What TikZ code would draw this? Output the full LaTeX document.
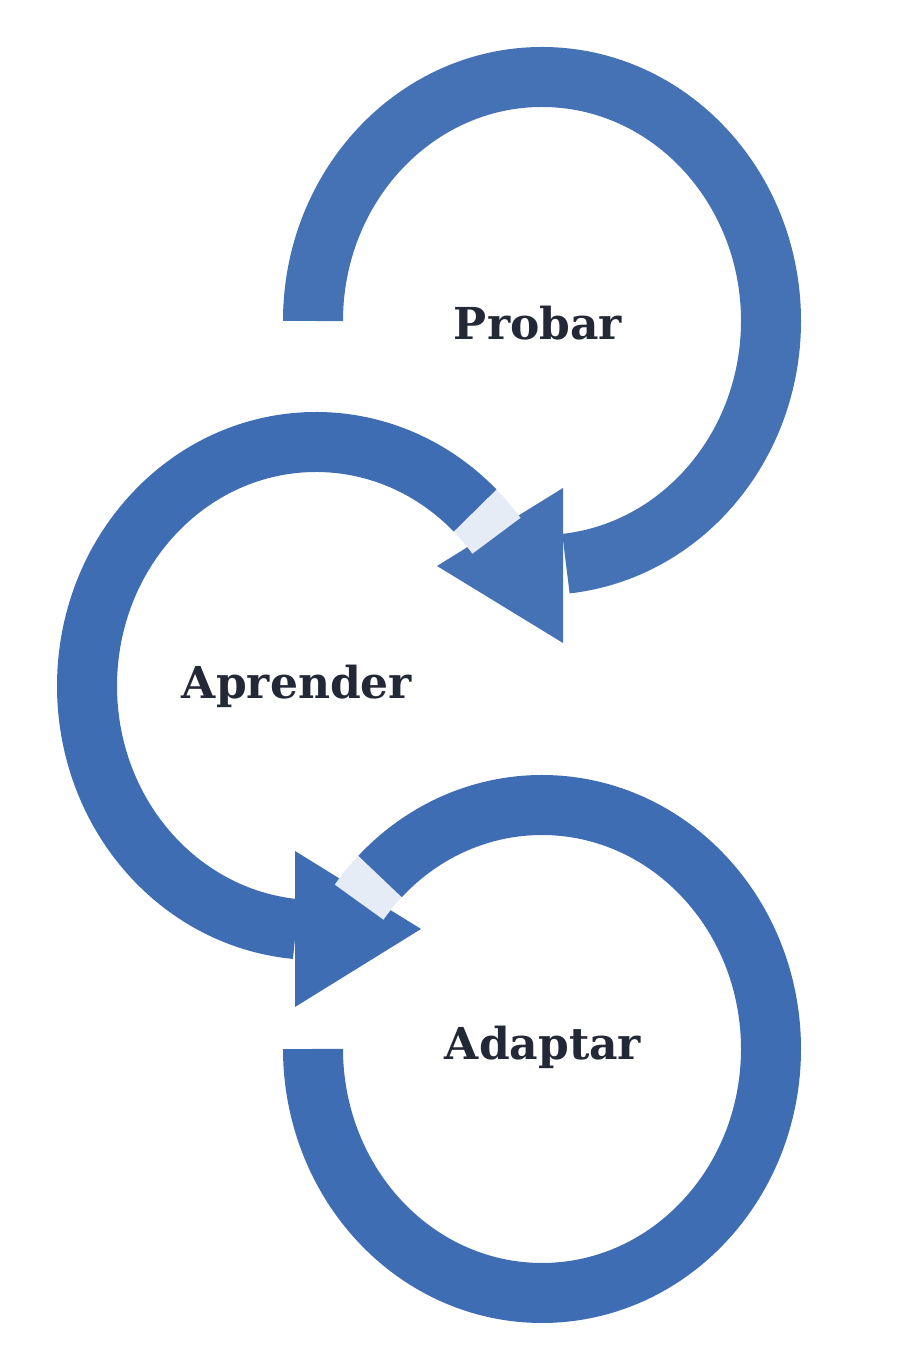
\documentclass[tikz,border=0pt]{standalone}
\usepackage{fontspec}
\setmainfont{DejaVu Serif}
\begin{document}
\begin{tikzpicture}[x=1pt,y=1pt]
\definecolor{band}{HTML}{4472B4}
\definecolor{bandd}{HTML}{3F6DB3}
\definecolor{pale}{HTML}{E6ECF6}
\definecolor{txt}{HTML}{232837}
\tikzset{ring/.style={line width=60pt,line cap=butt},
 lbl/.style={font=\bfseries\fontsize{44}{50}\selectfont,text=txt,inner sep=0pt}}
\useasboundingbox (0,0) rectangle (908,1372);
% top arc: centre (542,1051)
\draw[ring,band] ({542+229*cos(180)},{1051+244*sin(180)}) arc[start angle=180,end angle=-84,x radius=229,y radius=244];
\fill[band] (563,884) -- (563,729) -- (437,806) -- cycle;
% middle arc: centre (316,686)
\draw[ring,pale] ({316+229*cos(38)},{686+244*sin(38)}) arc[start angle=38,end angle=46,x radius=229,y radius=244];
\draw[ring,bandd] ({316+229*cos(46)},{686+244*sin(46)}) arc[start angle=46,end angle=265,x radius=229,y radius=244];
\fill[bandd] (295,521) -- (295,365) -- (421,443) -- cycle;
% bottom arc: centre (542,323)
\draw[ring,pale] ({542+229*cos(143)},{323+244*sin(143)}) arc[start angle=143,end angle=135,x radius=229,y radius=244];
\draw[ring,bandd] ({542+229*cos(135)},{323+244*sin(135)}) arc[start angle=135,end angle=-180,x radius=229,y radius=244];
\node[lbl] (p) at (538,1049) {Probar};
\node[lbl] (a) at (297,686) {Aprender};
\node[lbl] (d) at (543,325) {Adaptar};
\end{tikzpicture}
\end{document}
